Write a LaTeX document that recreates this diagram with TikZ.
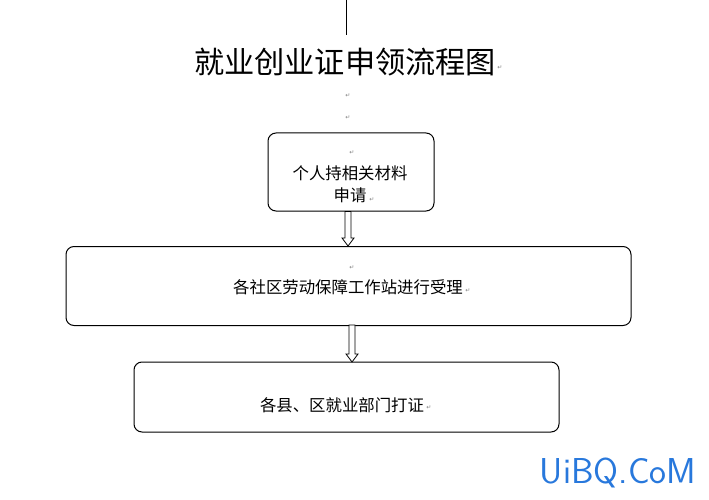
\documentclass[tikz,border=0pt]{standalone}
\usepackage{fontspec}
\setmainfont{Noto Sans CJK SC}
\newfontfamily\markfont{DejaVu Sans}
\usetikzlibrary{calc}
\tikzset{
  stepbox/.style={draw, rounded corners=8pt, line width=1pt, inner sep=0pt},
  pmark/.style={font=\markfont\fontsize{6}{6}\selectfont, text=gray, inner sep=0pt},
  boxtext/.style={font=\fontsize{16.4}{22}\selectfont, align=center, inner sep=0pt}
}
\newcommand{\hollowarrow}[2]{%
  \draw[line width=0.8pt, fill=white]
    ($(#1)+(-3,0)$) -- ($(#2)+(-3,-8)$) -- ($(#2)+(-6,-8)$) -- (#2)
    -- ($(#2)+(6,-8)$) -- ($(#2)+(3,-8)$) -- ($(#1)+(3,0)$) -- cycle;}
\begin{document}
\begin{tikzpicture}[x=1pt, y=-1pt]
\useasboundingbox (0,0) rectangle (709,500);
% top line and title
\coordinate (top) at (346,0);
\coordinate (topend) at (346,35);
\draw[line width=0.8pt] (top) -- (topend);
\node[font=\fontsize{30.2}{32}\selectfont, inner sep=0pt] (title) at (345,62) {就业创业证申领流程图};
\node[pmark] (m1) at (500,68) {↵};
\node[pmark] (m2) at (348,96) {↵};
\node[pmark] (m3) at (348,118) {↵};
% boxes
\node[stepbox, minimum width=166pt, minimum height=78pt] (apply) at (351,172) {};
\node[boxtext] (applytxt) at (350,184) {个人持相关材料\\申请};
\node[pmark] (m4) at (352,153) {↵};
\node[pmark] (m5) at (372,200) {↵};
\node[stepbox, minimum width=565pt, minimum height=79pt] (accept) at (348.5,286) {};
\node[boxtext] (accepttxt) at (348,287) {各社区劳动保障工作站进行受理};
\node[pmark] (m6) at (352,268) {↵};
\node[pmark] (m7) at (468,291) {↵};
\node[stepbox, minimum width=425pt, minimum height=70pt] (issue) at (346.5,397) {};
\node[boxtext] (issuetxt) at (342,405) {各县、区就业部门打证};
\node[pmark] (m8) at (429,408) {↵};
% arrows
\coordinate (a1s) at ($(apply.south)+(-3,0)$);
\coordinate (a1e) at (348,246);
\hollowarrow{a1s}{a1e}
\coordinate (a2s) at (352,325);
\coordinate (a2e) at (352,362);
\hollowarrow{a2s}{a2e}
% watermark
\node[font=\fontsize{36}{38}\selectfont\sffamily, text={rgb,255:red,40;green,120;blue,220}, inner sep=0pt] (wm) at (618,473) {UiBQ.CoM};
\end{tikzpicture}
\end{document}
